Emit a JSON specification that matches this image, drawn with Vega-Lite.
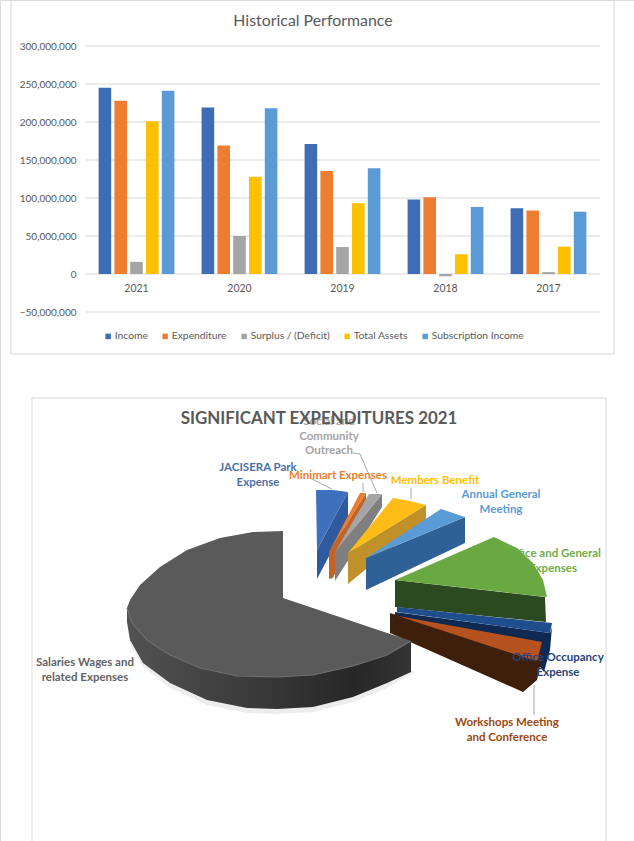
{"$schema":"https://vega.github.io/schema/vega-lite/v6.json","width":634,"height":841,"padding":0,"autosize":{"type":"none"},"background":"white","datasets":{"perf":[{"year":"2021","series":"Income","value":245000000},{"year":"2021","series":"Expenditure","value":228000000},{"year":"2021","series":"Surplus / (Deficit)","value":16000000},{"year":"2021","series":"Total Assets","value":201000000},{"year":"2021","series":"Subscription Income","value":241000000},{"year":"2020","series":"Income","value":219000000},{"year":"2020","series":"Expenditure","value":169000000},{"year":"2020","series":"Surplus / (Deficit)","value":50000000},{"year":"2020","series":"Total Assets","value":128000000},{"year":"2020","series":"Subscription Income","value":218000000},{"year":"2019","series":"Income","value":171000000},{"year":"2019","series":"Expenditure","value":135500000},{"year":"2019","series":"Surplus / (Deficit)","value":35500000},{"year":"2019","series":"Total Assets","value":93000000},{"year":"2019","series":"Subscription Income","value":139000000},{"year":"2018","series":"Income","value":98000000},{"year":"2018","series":"Expenditure","value":101000000},{"year":"2018","series":"Surplus / (Deficit)","value":-3000000},{"year":"2018","series":"Total Assets","value":26000000},{"year":"2018","series":"Subscription Income","value":88000000},{"year":"2017","series":"Income","value":86500000},{"year":"2017","series":"Expenditure","value":83500000},{"year":"2017","series":"Surplus / (Deficit)","value":2500000},{"year":"2017","series":"Total Assets","value":36000000},{"year":"2017","series":"Subscription Income","value":82000000}]},"layer":[{"data":{"values":[{"x":11,"x2":614,"y":0,"y2":354},{"x":32,"x2":606,"y":398,"y2":860}]},"mark":{"type":"rect","filled":false,"stroke":"#D9D9D9","strokeWidth":1},"encoding":{"x":{"field":"x","type":"quantitative","scale":{"domain":[0,634]},"axis":null},"x2":{"field":"x2"},"y":{"field":"y","type":"quantitative","scale":{"domain":[841,0]},"axis":null},"y2":{"field":"y2"}}},{"data":{"values":[{"g":-50000000},{"g":0},{"g":50000000},{"g":100000000},{"g":150000000},{"g":200000000},{"g":250000000},{"g":300000000}]},"mark":{"type":"rule","color":"#D9D9D9","strokeWidth":1},"encoding":{"y":{"field":"g","type":"quantitative","scale":{"domain":[-50000000,300000000],"range":[312,46]},"axis":{"orient":"left","offset":-85,"zindex":1,"values":[-50000000,0,50000000,100000000,150000000,200000000,250000000,300000000],"labelExpr":"format(datum.value, ',')","title":null,"grid":false,"ticks":false,"domain":false,"labelPadding":9,"labelFont":"Lato","labelFontSize":10,"labelColor":"#595959"}},"x":{"datum":0,"type":"quantitative","scale":{"domain":[0,1],"range":[85,600]},"axis":null},"x2":{"datum":1}}},{"data":{"name":"perf"},"mark":{"type":"bar"},"encoding":{"x":{"field":"year","type":"nominal","sort":["2021","2020","2019","2018","2017"],"scale":{"range":[85,600],"paddingInner":0.264,"paddingOuter":0.132},"axis":{"orient":"bottom","offset":-560,"zindex":1,"title":null,"grid":false,"ticks":false,"domain":false,"labelAngle":0,"labelPadding":2,"labelFont":"Lato","labelFontSize":10.5,"labelColor":"#595959"}},"xOffset":{"field":"series","type":"nominal","sort":["Income","Expenditure","Surplus / (Deficit)","Total Assets","Subscription Income"],"scale":{"paddingInner":0.203,"paddingOuter":0}},"y":{"field":"value","type":"quantitative","scale":{"domain":[-50000000,300000000],"range":[312,46]},"axis":null},"color":{"field":"series","type":"nominal","scale":{"domain":["Income","Expenditure","Surplus / (Deficit)","Total Assets","Subscription Income"],"range":["#3F6DB5","#ED7D31","#A5A5A5","#FFC000","#5B9BD5"]},"legend":{"orient":"none","legendX":103,"legendY":331,"direction":"horizontal","columns":5,"title":null,"symbolType":"square","symbolSize":30,"labelFont":"Lato","labelFontSize":10.3,"labelColor":"#595959","columnPadding":12,"labelOffset":1.5}}}},{"data":{"values":[{"t":"Office and General","x":553,"y":554},{"t":"Expenses","x":553,"y":569}]},"mark":{"type":"text","font":"Lato","fontWeight":"bold","fontSize":11.5,"align":"center","baseline":"middle","color":"#70AD47"},"encoding":{"x":{"field":"x","type":"quantitative","scale":{"domain":[0,634]},"axis":null},"y":{"field":"y","type":"quantitative","scale":{"domain":[841,0]},"axis":null},"text":{"field":"t"}}},{"data":{"values":[{"i":1,"x":127,"y":612},{"i":2,"x":130,"y":644},{"i":3,"x":143,"y":667},{"i":4,"x":170,"y":688},{"i":5,"x":207,"y":705},{"i":6,"x":247,"y":713},{"i":7,"x":277,"y":714},{"i":8,"x":313,"y":712},{"i":9,"x":353,"y":702},{"i":10,"x":387,"y":688},{"i":11,"x":415,"y":672},{"i":12,"x":300,"y":640}]},"mark":{"type":"line","filled":true,"color":"#EDEDED","stroke":null},"encoding":{"x":{"field":"x","type":"quantitative","scale":{"domain":[0,634]},"axis":null},"y":{"field":"y","type":"quantitative","scale":{"domain":[841,0]},"axis":null},"order":{"field":"i"}}},{"data":{"values":[{"part":"pie_side","i":1,"x":127,"y":608},{"part":"pie_side","i":2,"x":127,"y":622},{"part":"pie_side","i":3,"x":130,"y":640},{"part":"pie_side","i":4,"x":143,"y":663},{"part":"pie_side","i":5,"x":170,"y":683},{"part":"pie_side","i":6,"x":207,"y":700},{"part":"pie_side","i":7,"x":247,"y":708},{"part":"pie_side","i":8,"x":277,"y":709},{"part":"pie_side","i":9,"x":313,"y":707},{"part":"pie_side","i":10,"x":353,"y":697},{"part":"pie_side","i":11,"x":387,"y":683},{"part":"pie_side","i":12,"x":411,"y":672},{"part":"pie_side","i":13,"x":411,"y":641},{"part":"pie_side","i":14,"x":353,"y":666},{"part":"pie_side","i":15,"x":277,"y":677},{"part":"pie_side","i":16,"x":170,"y":655}]},"mark":{"type":"line","filled":true,"fill":{"gradient":"linear","x1":0,"y1":0,"x2":1,"y2":0,"stops":[{"offset":0,"color":"#525252"},{"offset":0.45,"color":"#3A3A3A"},{"offset":0.8,"color":"#272727"},{"offset":1,"color":"#343434"}]},"stroke":null},"encoding":{"x":{"field":"x","type":"quantitative","scale":{"domain":[0,634]},"axis":null},"y":{"field":"y","type":"quantitative","scale":{"domain":[841,0]},"axis":null},"order":{"field":"i"}}},{"data":{"values":[{"part":"Office and General side","i":1,"x":395,"y":580},{"part":"Office and General side","i":2,"x":545,"y":597},{"part":"Office and General side","i":3,"x":546,"y":622},{"part":"Office and General side","i":4,"x":395,"y":607},{"part":"Office and General top","i":1,"x":395,"y":580},{"part":"Office and General top","i":2,"x":494,"y":537},{"part":"Office and General top","i":3,"x":517,"y":548},{"part":"Office and General top","i":4,"x":533,"y":563},{"part":"Office and General top","i":5,"x":543,"y":580},{"part":"Office and General top","i":6,"x":547,"y":597},{"part":"Office Occupancy side","i":1,"x":395,"y":612},{"part":"Office Occupancy side","i":2,"x":550,"y":633},{"part":"Office Occupancy side","i":3,"x":552,"y":627},{"part":"Office Occupancy side","i":4,"x":550,"y":650},{"part":"Office Occupancy side","i":5,"x":544,"y":672},{"part":"Office Occupancy side","i":6,"x":535,"y":660},{"part":"Office Occupancy side","i":7,"x":395,"y":620},{"part":"Office Occupancy top","i":1,"x":397,"y":607},{"part":"Office Occupancy top","i":2,"x":552,"y":623},{"part":"Office Occupancy top","i":3,"x":550,"y":633},{"part":"Office Occupancy top","i":4,"x":397,"y":612},{"part":"Workshops side","i":1,"x":390,"y":613},{"part":"Workshops side","i":2,"x":520,"y":652},{"part":"Workshops side","i":3,"x":543,"y":653},{"part":"Workshops side","i":4,"x":537,"y":680},{"part":"Workshops side","i":5,"x":523,"y":692},{"part":"Workshops side","i":6,"x":390,"y":633},{"part":"Workshops top","i":1,"x":398,"y":616},{"part":"Workshops top","i":2,"x":542,"y":642},{"part":"Workshops top","i":3,"x":537,"y":661},{"part":"Workshops top","i":4,"x":520,"y":656},{"part":"JACISERA side","i":1,"x":348,"y":492},{"part":"JACISERA side","i":2,"x":348,"y":520},{"part":"JACISERA side","i":3,"x":317,"y":579},{"part":"JACISERA side","i":4,"x":317,"y":550},{"part":"JACISERA top","i":1,"x":316,"y":490},{"part":"JACISERA top","i":2,"x":333,"y":490},{"part":"JACISERA top","i":3,"x":348,"y":492},{"part":"JACISERA top","i":4,"x":317,"y":550},{"part":"Minimart side","i":1,"x":366,"y":493},{"part":"Minimart side","i":2,"x":366,"y":502},{"part":"Minimart side","i":3,"x":333,"y":578},{"part":"Minimart side","i":4,"x":329,"y":579},{"part":"Minimart side","i":5,"x":329,"y":552},{"part":"Minimart top","i":1,"x":360,"y":493},{"part":"Minimart top","i":2,"x":366,"y":493},{"part":"Minimart top","i":3,"x":329,"y":552},{"part":"Community side","i":1,"x":382,"y":494},{"part":"Community side","i":2,"x":382,"y":507},{"part":"Community side","i":3,"x":335,"y":581},{"part":"Community side","i":4,"x":335,"y":552},{"part":"Community top","i":1,"x":369,"y":494},{"part":"Community top","i":2,"x":382,"y":494},{"part":"Community top","i":3,"x":335,"y":552},{"part":"Members side","i":1,"x":426,"y":505},{"part":"Members side","i":2,"x":426,"y":519},{"part":"Members side","i":3,"x":348,"y":584},{"part":"Members side","i":4,"x":348,"y":553},{"part":"Members top","i":1,"x":393,"y":498},{"part":"Members top","i":2,"x":410,"y":501},{"part":"Members top","i":3,"x":426,"y":505},{"part":"Members top","i":4,"x":348,"y":553},{"part":"AGM side","i":1,"x":465,"y":517},{"part":"AGM side","i":2,"x":465,"y":543},{"part":"AGM side","i":3,"x":366,"y":590},{"part":"AGM side","i":4,"x":366,"y":558},{"part":"AGM top","i":1,"x":441,"y":509},{"part":"AGM top","i":2,"x":453,"y":513},{"part":"AGM top","i":3,"x":465,"y":517},{"part":"AGM top","i":4,"x":366,"y":558}]},"mark":{"type":"line","filled":true,"stroke":null},"encoding":{"x":{"field":"x","type":"quantitative","scale":{"domain":[0,634]},"axis":null},"y":{"field":"y","type":"quantitative","scale":{"domain":[841,0]},"axis":null},"order":{"field":"i"},"color":{"field":"part","type":"nominal","legend":null,"scale":{"domain":["Office and General side","Office and General top","Office Occupancy side","Office Occupancy top","Workshops side","Workshops top","JACISERA side","JACISERA top","Minimart side","Minimart top","Community side","Community top","Members side","Members top","AGM side","AGM top"],"range":["#2B4A20","#6AA842","#0E2A52","#1E4E8C","#3E1F0C","#B5521F","#2F5A9E","#3F70BE","#C26428","#ED7D31","#7F7F7F","#A5A5A5","#BF9128","#FFBB16","#2F6096","#5B9BD5"]}}}},{"data":{"values":[{"part":"pie_top","i":1,"x":283,"y":531},{"part":"pie_top","i":2,"x":253,"y":532},{"part":"pie_top","i":3,"x":220,"y":538},{"part":"pie_top","i":4,"x":187,"y":550},{"part":"pie_top","i":5,"x":160,"y":567},{"part":"pie_top","i":6,"x":140,"y":585},{"part":"pie_top","i":7,"x":130,"y":600},{"part":"pie_top","i":8,"x":127,"y":608},{"part":"pie_top","i":9,"x":132,"y":623},{"part":"pie_top","i":10,"x":147,"y":640},{"part":"pie_top","i":11,"x":170,"y":655},{"part":"pie_top","i":12,"x":200,"y":668},{"part":"pie_top","i":13,"x":237,"y":676},{"part":"pie_top","i":14,"x":277,"y":677},{"part":"pie_top","i":15,"x":313,"y":675},{"part":"pie_top","i":16,"x":353,"y":666},{"part":"pie_top","i":17,"x":387,"y":655},{"part":"pie_top","i":18,"x":411,"y":641},{"part":"pie_top","i":19,"x":283,"y":598}]},"mark":{"type":"line","filled":true,"color":"#5A5A5A","stroke":null},"encoding":{"x":{"field":"x","type":"quantitative","scale":{"domain":[0,634]},"axis":null},"y":{"field":"y","type":"quantitative","scale":{"domain":[841,0]},"axis":null},"order":{"field":"i"}}},{"data":{"values":[{"i":1,"x":127,"y":608},{"i":2,"x":132,"y":623},{"i":3,"x":147,"y":640},{"i":4,"x":170,"y":655},{"i":5,"x":200,"y":668},{"i":6,"x":237,"y":676},{"i":7,"x":277,"y":677},{"i":8,"x":313,"y":675},{"i":9,"x":353,"y":666},{"i":10,"x":387,"y":655},{"i":11,"x":411,"y":641}]},"mark":{"type":"line","color":"#6E6E6E","strokeWidth":1.2},"encoding":{"x":{"field":"x","type":"quantitative","scale":{"domain":[0,634]},"axis":null},"y":{"field":"y","type":"quantitative","scale":{"domain":[841,0]},"axis":null},"order":{"field":"i"}}},{"data":{"values":[{"line":"a","i":1,"x":310,"y":478},{"line":"a","i":2,"x":332,"y":489},{"line":"b","i":1,"x":363,"y":483},{"line":"b","i":2,"x":363,"y":492},{"line":"c","i":1,"x":353,"y":453},{"line":"c","i":2,"x":360,"y":454},{"line":"c","i":3,"x":377,"y":493},{"line":"d","i":1,"x":411,"y":488},{"line":"d","i":2,"x":411,"y":499},{"line":"e","i":1,"x":534,"y":685},{"line":"e","i":2,"x":534,"y":715}]},"mark":{"type":"line","color":"#A6A6A6","strokeWidth":1},"encoding":{"x":{"field":"x","type":"quantitative","scale":{"domain":[0,634]},"axis":null},"y":{"field":"y","type":"quantitative","scale":{"domain":[841,0]},"axis":null},"order":{"field":"i"},"detail":{"field":"line"}}},{"data":{"values":[{"t":"Social and","x":329,"y":422,"k":"Community"},{"t":"Community","x":329,"y":437,"k":"Community"},{"t":"Outreach","x":329,"y":451,"k":"Community"},{"t":"JACISERA Park","x":258,"y":468,"k":"JACISERA"},{"t":"Expense","x":258,"y":483,"k":"JACISERA"},{"t":"Minimart Expenses","x":338,"y":476,"k":"Minimart"},{"t":"Members Benefit","x":435,"y":481,"k":"Members"},{"t":"Annual General","x":501,"y":495,"k":"AGM"},{"t":"Meeting","x":501,"y":510,"k":"AGM"},{"t":"Office Occupancy","x":558,"y":658,"k":"Occupancy"},{"t":"Expense","x":558,"y":673,"k":"Occupancy"},{"t":"Workshops Meeting","x":507,"y":723,"k":"Workshops"},{"t":"and Conference","x":507,"y":738,"k":"Workshops"},{"t":"Salaries Wages and","x":85,"y":663,"k":"Salaries"},{"t":"related Expenses","x":85,"y":678,"k":"Salaries"}]},"mark":{"type":"text","font":"Lato","fontWeight":"bold","fontSize":11.5,"align":"center","baseline":"middle"},"encoding":{"x":{"field":"x","type":"quantitative","scale":{"domain":[0,634]},"axis":null},"y":{"field":"y","type":"quantitative","scale":{"domain":[841,0]},"axis":null},"text":{"field":"t"},"color":{"field":"k","type":"nominal","legend":null,"scale":{"domain":["Community","JACISERA","Minimart","Members","AGM","Occupancy","Workshops","Salaries"],"range":["#A5A5A5","#4A6FA8","#ED7D31","#FFC000","#5B9BD5","#264478","#9E480E","#636363"]}}}},{"data":{"values":[{"t":"SIGNIFICANT EXPENDITURES 2021","x":319,"y":419}]},"mark":{"type":"text","font":"Lato","fontWeight":"bold","fontSize":16.9,"align":"center","baseline":"middle","color":"#595959"},"encoding":{"x":{"field":"x","type":"quantitative","scale":{"domain":[0,634]},"axis":null},"y":{"field":"y","type":"quantitative","scale":{"domain":[841,0]},"axis":null},"text":{"field":"t"}}},{"data":{"values":[{"t":"Historical Performance","x":313,"y":21}]},"mark":{"type":"text","font":"Lato","fontSize":15.9,"align":"center","baseline":"middle","color":"#595959"},"encoding":{"x":{"field":"x","type":"quantitative","scale":{"domain":[0,634]},"axis":null},"y":{"field":"y","type":"quantitative","scale":{"domain":[841,0]},"axis":null},"text":{"field":"t"}}}],"resolve":{"scale":{"x":"independent","y":"independent","color":"independent","xOffset":"independent"},"axis":{"x":"independent","y":"independent"}}}
